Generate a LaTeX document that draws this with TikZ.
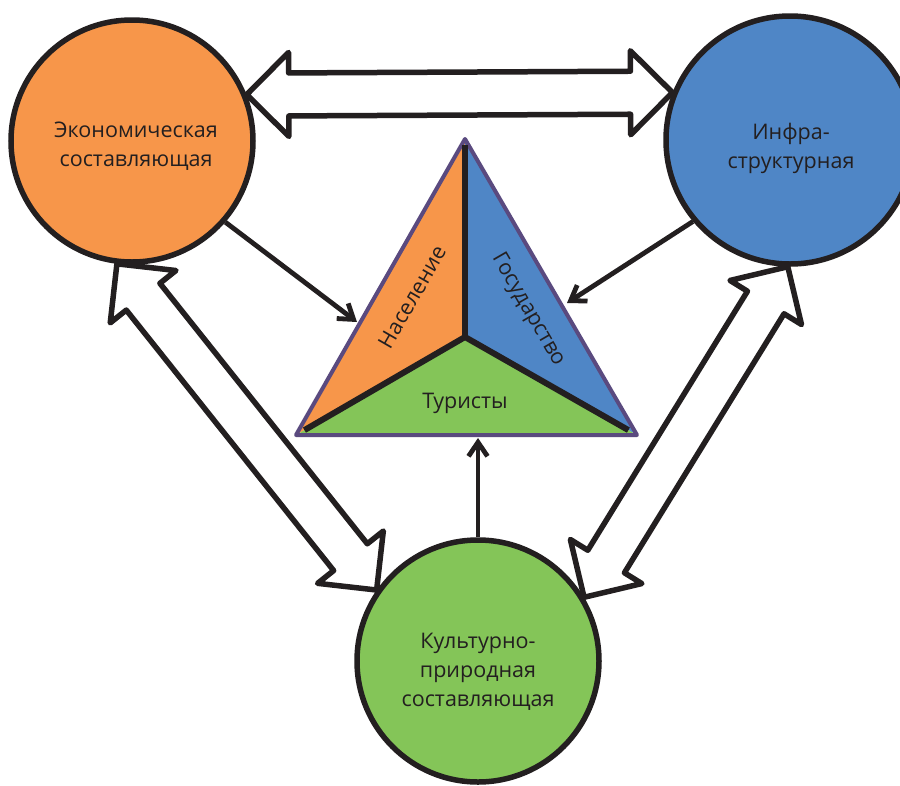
\documentclass[tikz,border=0pt]{standalone}
\usepackage{fontspec}
\setmainfont{Open Sans}
\usetikzlibrary{calc,arrows.meta}
\definecolor{ink}{HTML}{231F20}
\definecolor{orng}{HTML}{F7964A}
\definecolor{blu}{HTML}{4F86C6}
\definecolor{grn}{HTML}{84C558}
\definecolor{purp}{HTML}{5A4A7F}
\def\fhl{42pt}
\def\fhw{42pt}
\def\fsw{21.5pt}
\newcommand\fatarr[2]{%
  \draw[fat] (#1) -- ($(#1)!\fhl!(#2)!\fhw!90:(#2)$) -- ($(#1)!\fhl!(#2)!\fsw!90:(#2)$)
    -- ($(#2)!\fhl!(#1)!\fsw!-90:(#1)$) -- ($(#2)!\fhl!(#1)!\fhw!-90:(#1)$) -- (#2)
    -- ($(#2)!\fhl!(#1)!\fhw!90:(#1)$) -- ($(#2)!\fhl!(#1)!\fsw!90:(#1)$)
    -- ($(#1)!\fhl!(#2)!\fsw!-90:(#2)$) -- ($(#1)!\fhl!(#2)!\fhw!-90:(#2)$) -- cycle;}
\tikzset{
  circ/.style={circle, draw=ink, line width=5.5pt, inner sep=0pt},
  lbl/.style={text=ink, font=\fontsize{21.5}{29}\selectfont, align=center, inner sep=0pt},
  fat/.style={draw=ink, fill=white, line width=5.5pt, line join=round},
  thinarr/.style={draw=ink, line width=4.8pt, -{Straight Barb[length=14pt,width=19pt]}},
}
\begin{document}
\begin{tikzpicture}[x=1pt,y=-1pt]
\clip (0,0) rectangle (900,785);
\fill[white] (0,0) rectangle (900,785);
% circles
\node[circ, fill=orng, minimum size=242pt] (eco) at (132,141) {};
\node[circ, fill=blu, minimum size=248pt] (infra) at (790,140) {};
\node[circ, fill=grn, minimum size=242pt] (cult) at (478,661) {};
% fat double arrows
\fatarr{eco.22}{infra.158}
\fatarr{eco.-97.6}{cult.145.8}
\fatarr{infra.-91.3}{cult.31.7}
% triangle
\coordinate (A) at (465,139);
\coordinate (BL) at (296,435);
\coordinate (BR) at (637,435);
\coordinate (C) at (465,337);
\fill[orng] (A) -- (C) -- (BL) -- cycle;
\fill[blu] (A) -- (BR) -- (C) -- cycle;
\fill[grn] (BL) -- (C) -- (BR) -- cycle;
\draw[purp, line width=4pt, line join=round] (A) -- (BL) -- (BR) -- cycle;
\draw[ink, line width=6pt] ($(C)!0.95!(BL)$) -- (C) -- ($(C)!0.95!(BR)$);
\draw[ink, line width=6pt] (C) -- ($(C)!0.97!(A)$);
% thin arrows
\coordinate (tipL) at (357,322);
\coordinate (tipR) at (567,303);
\coordinate (tipV) at (478,438);
\draw[thinarr] (eco.-41) -- (tipL);
\draw[thinarr] (infra.220) -- (tipR);
\draw[thinarr] (cult.north) -- (tipV);
% labels
\node[lbl] (ecot) at (136,146) {Экономическая\\составляющая};
\node[lbl] (infrat) at (791,148) {Инфра-\\структурная};
\node[lbl] (cultt) at (478,672) {Культурно-\\природная\\составляющая};
\node[lbl, rotate=60] (nas) at (412,297) {Население};
\node[lbl, rotate=-60] (gos) at (528,310) {Государство};
\node[lbl] (tur) at (465,403) {Туристы};
\end{tikzpicture}
\end{document}
